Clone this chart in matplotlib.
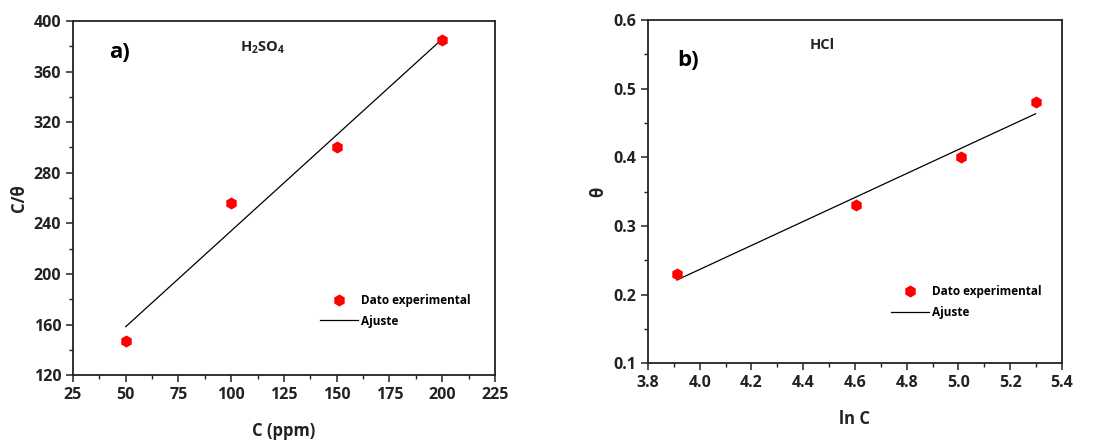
import numpy as np
import matplotlib
matplotlib.use('Agg')
import matplotlib.pyplot as plt
from matplotlib.ticker import MultipleLocator

plt.rcParams['font.family'] = ['Open Sans', 'DejaVu Sans']
plt.rcParams['mathtext.fontset'] = 'custom'
plt.rcParams['mathtext.rm'] = 'Open Sans'
plt.rcParams['mathtext.bf'] = 'Open Sans:bold'

# datos panel a) H2SO4
conc_a = [50, 100, 150, 200]
c_theta = [147, 256, 300, 385]

# datos panel b) HCl
ln_c = [3.912, 4.605, 5.011, 5.298]
theta = [0.23, 0.33, 0.40, 0.48]


def style_axes(ax):
    for s in ax.spines.values():
        s.set_linewidth(1.3)
        s.set_color('#222222')
    ax.tick_params(which='major', direction='out', length=5, width=1.1,
                   labelsize=11.5, top=False, right=False, colors='#222222')
    ax.tick_params(which='minor', direction='out', length=3, width=1.0,
                   top=False, right=False, colors='#222222')
    for lab in ax.get_xticklabels() + ax.get_yticklabels():
        lab.set_fontweight('bold')


def draw_panel(ax, x, y, letter, species, xlabel, ylabel, leg_xy, xpad):
    x = np.array(x)
    y = np.array(y)
    p = np.polyfit(x, y, 1)
    ax.plot(x, y, linestyle='none', marker='h', color='red', markersize=7.5,
            label='Dato experimental', zorder=3)
    ax.plot(x, np.polyval(p, x), color='black', linewidth=0.9, label='Ajuste')
    ax.set_xlabel(xlabel, fontsize=12, fontweight='bold', labelpad=xpad,
                  color='#222222')
    ax.set_ylabel(ylabel, fontsize=12, fontweight='bold', color='#222222')
    ax.text(letter[1], letter[2], letter[0], transform=ax.transAxes,
            fontsize=16, fontweight='bold', va='center', ha='left')
    ax.text(species[1], species[2], species[0], transform=ax.transAxes,
            fontsize=10.5, fontweight='bold', va='center', ha='center',
            color='#222222')
    ax.legend(loc='center left', bbox_to_anchor=leg_xy, frameon=False,
              borderpad=0, borderaxespad=0, handlelength=3.2,
              handletextpad=0.3, labelspacing=0.65,
              prop={'size': 8.5, 'weight': 'bold'})


fig = plt.figure(figsize=(10.99, 4.45), dpi=100)

ax1 = fig.add_axes([0.0664, 0.157, 0.384, 0.796])
draw_panel(ax1, conc_a, c_theta, ('a)', 0.085, 0.91),
           (r'$\mathbf{H_2SO_4}$', 0.45, 0.924), 'C (ppm)', 'C/θ',
           (0.585, 0.182), 14)
ax1.set_xlim(25, 225)
ax1.set_ylim(120, 400)
ax1.xaxis.set_major_locator(MultipleLocator(25))
ax1.xaxis.set_minor_locator(MultipleLocator(12.5))
ax1.yaxis.set_major_locator(MultipleLocator(40))
ax1.yaxis.set_minor_locator(MultipleLocator(20))
style_axes(ax1)

ax2 = fig.add_axes([0.5896, 0.184, 0.3767, 0.771])
draw_panel(ax2, ln_c, theta, ('b)', 0.07, 0.883), ('HCl', 0.42, 0.927),
           'ln C', 'θ', (0.587, 0.178), 14)
ax2.set_xlim(3.8, 5.4)
ax2.set_ylim(0.1, 0.6)
ax2.xaxis.set_major_locator(MultipleLocator(0.2))
ax2.xaxis.set_minor_locator(MultipleLocator(0.1))
ax2.yaxis.set_major_locator(MultipleLocator(0.1))
ax2.yaxis.set_minor_locator(MultipleLocator(0.05))
ax2.xaxis.set_major_formatter(plt.FormatStrFormatter('%.1f'))
ax2.yaxis.set_major_formatter(plt.FormatStrFormatter('%.1f'))
style_axes(ax2)

fig.savefig('out.png', dpi=100)
